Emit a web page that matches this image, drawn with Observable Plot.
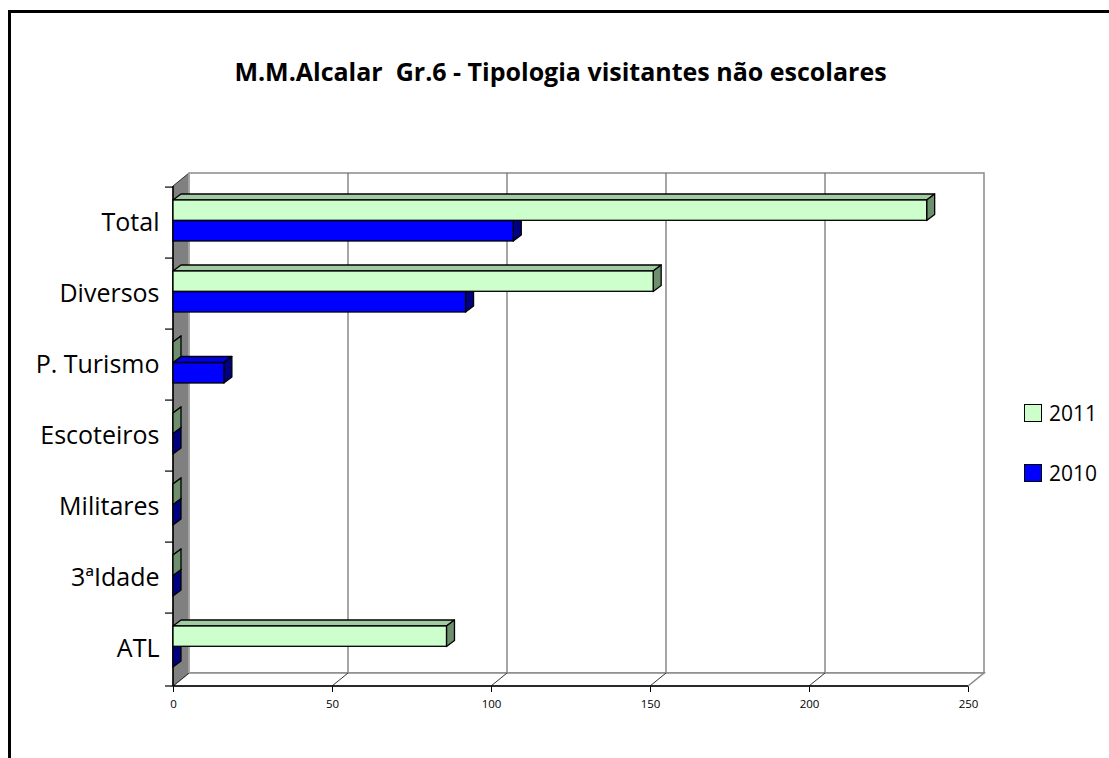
<!DOCTYPE html>
<html>
<head>
<meta charset="utf-8">
<script src="https://cdn.jsdelivr.net/npm/d3@7"></script>
<script src="https://cdn.jsdelivr.net/npm/@observablehq/plot@0.6"></script>
<style>
  html, body { margin: 0; padding: 0; background: #fff; overflow: hidden; }
  #wrap { position: relative; width: 1109px; height: 758px; overflow: hidden; font-family: "Open Sans", sans-serif; }
  #border { position: absolute; left: 8px; top: 10px; width: 1200px; height: 900px; border: 3px solid #000; box-sizing: border-box; }
  #title { position: relative; height: 120px; box-sizing: border-box; padding-top: 56px; line-height: 30px; text-align: center; font-weight: bold; font-size: 25px; padding-left: 12px; }
  #chart { position: relative; }
  #legend { position: absolute; left: 1024px; top: 400px; font-size: 21px; }
  .item { display: flex; align-items: center; height: 26px; margin-bottom: 34px; }
  .sw { width: 16px; height: 16px; border: 1.5px solid #000; margin-right: 7px; }
</style>
</head>
<body>
<div id="wrap">
  <div id="border"></div>
  <div id="title">M.M.Alcalar&nbsp; Gr.6 - Tipologia visitantes não escolares</div>
  <div id="chart"></div>
  <div id="legend"></div>
</div>
<script>
const categories = ["Total", "Diversos", "P. Turismo", "Escoteiros", "Militares", "3ªIdade", "ATL"];
const series = ["2011", "2010"];
const values2011 = [237, 151, 0, 0, 0, 0, 86];
const values2010 = [107, 92, 16, 0, 0, 0, 0];
const xTicks = [0, 50, 100, 150, 200, 250];

const colors = {
  "2011": {front: "#CCFFCC", top: "#A3CBA3", side: "#6E8F6E"},
  "2010": {front: "#0000FF", top: "#0000E0", side: "#000080"}
};

const data = categories.flatMap((c, i) => [
  {category: c, series: "2011", value: values2011[i]},
  {category: c, series: "2010", value: values2010[i]}
]);

const WD = 16, WDY = 13;   // wall / floor depth
const BD = 8, BDY = 6;     // bar depth
const BAR_DY = -2;         // bars sit slightly back
const PAD_IN = 0.42, PAD_OUT = 0.21;

function frame3D(index, scales, values, dims) {
  const {x, y} = scales;
  const x0 = x(xTicks[0]), x1 = x(xTicks[xTicks.length - 1]);
  const top = dims.marginTop, bot = dims.height - dims.marginBottom;
  const g = d3.create("svg:g");
  g.append("rect").attr("x", x0 + WD).attr("y", top - WDY).attr("width", x1 - x0).attr("height", bot - top)
    .attr("fill", "#fff").attr("stroke", "#8a8a8a").attr("stroke-width", 1.5);
  xTicks.slice(1, -1).forEach(t => {
    g.append("line").attr("x1", x(t) + WD).attr("x2", x(t) + WD).attr("y1", top - WDY).attr("y2", bot - WDY)
      .attr("stroke", "#6a6a6a").attr("stroke-width", 1.2);
  });
  g.append("path").attr("d", `M${x0},${bot}L${x0 + WD},${bot - WDY}L${x1 + WD},${bot - WDY}L${x1},${bot}Z`)
    .attr("fill", "#fff").attr("stroke", "#8a8a8a").attr("stroke-width", 1.5);
  xTicks.slice(1, -1).forEach(t => {
    g.append("line").attr("x1", x(t)).attr("x2", x(t) + WD).attr("y1", bot).attr("y2", bot - WDY)
      .attr("stroke", "#333").attr("stroke-width", 1);
  });
  g.append("path").attr("d", `M${x0},${top}L${x0 + WD},${top - WDY}L${x0 + WD},${bot - WDY}L${x0},${bot}Z`)
    .attr("fill", "#808080").attr("stroke", "#333").attr("stroke-width", 1);
  g.append("line").attr("x1", x0 + WD).attr("x2", x0 + WD).attr("y1", top - WDY).attr("y2", bot - WDY)
    .attr("stroke", "#bdbdbd").attr("stroke-width", 1.5);
  g.append("line").attr("x1", x0).attr("x2", x0).attr("y1", top).attr("y2", bot).attr("stroke", "#000").attr("stroke-width", 1.5);
  g.append("line").attr("x1", x0).attr("x2", x1).attr("y1", bot).attr("y2", bot).attr("stroke", "#000").attr("stroke-width", 1.5);
  const step = y.step();
  const bounds = categories.map(c => y(c) - PAD_IN * step / 2).concat([bot]);
  bounds.forEach(b => {
    g.append("line").attr("x1", x0 - 8).attr("x2", x0).attr("y1", b).attr("y2", b).attr("stroke", "#000").attr("stroke-width", 1.2);
  });
  return g.node();
}

function faces(s) {
  return function(index, scales) {
    const {x, y} = scales;
    const bw = y.bandwidth();
    const c = colors[s];
    const g = d3.create("svg:g").attr("stroke", "#000").attr("stroke-width", 1.3).attr("stroke-linejoin", "round");
    data.filter(d => d.series === s).forEach(d => {
      const yt = y(d.category) + (s === "2011" ? 0 : bw / 2) + BAR_DY;
      const yb = yt + bw / 2;
      const xa = x(0), xb = x(d.value);
      g.append("path").attr("d", `M${xa},${yt}L${xa + BD},${yt - BDY}L${xb + BD},${yt - BDY}L${xb},${yt}Z`).attr("fill", c.top);
      g.append("path").attr("d", `M${xb},${yt}L${xb + BD},${yt - BDY}L${xb + BD},${yb - BDY}L${xb},${yb}Z`).attr("fill", c.side);
    });
    return g.node();
  };
}

const H = 638;
const plot = Plot.plot({
  width: 1109,
  height: H,
  marginLeft: 173,
  marginRight: 141,
  marginTop: 66,
  marginBottom: 72,
  style: {fontFamily: "Open Sans, sans-serif", fontSize: "11.5px", color: "#000", overflow: "visible", background: "transparent"},
  x: {domain: [xTicks[0], xTicks[xTicks.length - 1]], ticks: xTicks, tickFormat: d => String(d), tickSize: 6, tickPadding: 7, label: null},
  y: {domain: categories, paddingInner: PAD_IN, paddingOuter: PAD_OUT, axis: null, label: null},
  marks: [
    frame3D,
    Plot.text(categories, {y: d => d, frameAnchor: "left", dx: -14, textAnchor: "end", fontSize: 25, fill: "#000"}),
    faces("2010"),
    Plot.barX(data.filter(d => d.series === "2010"), {x: "value", y: "category", dy: BAR_DY, fill: colors["2010"].front, stroke: "#000", strokeWidth: 1.3, insetTop: 20.7}),
    faces("2011"),
    Plot.barX(data.filter(d => d.series === "2011"), {x: "value", y: "category", dy: BAR_DY, fill: colors["2011"].front, stroke: "#000", strokeWidth: 1.3, insetBottom: 20.7})
  ]
});
document.getElementById("chart").appendChild(plot);

const legend = document.getElementById("legend");
series.forEach(s => {
  const item = document.createElement("div");
  item.className = "item";
  const sw = document.createElement("div");
  sw.className = "sw";
  sw.style.background = colors[s].front;
  const t = document.createElement("span");
  t.textContent = s;
  item.appendChild(sw);
  item.appendChild(t);
  legend.appendChild(item);
});
</script>
</body>
</html>
